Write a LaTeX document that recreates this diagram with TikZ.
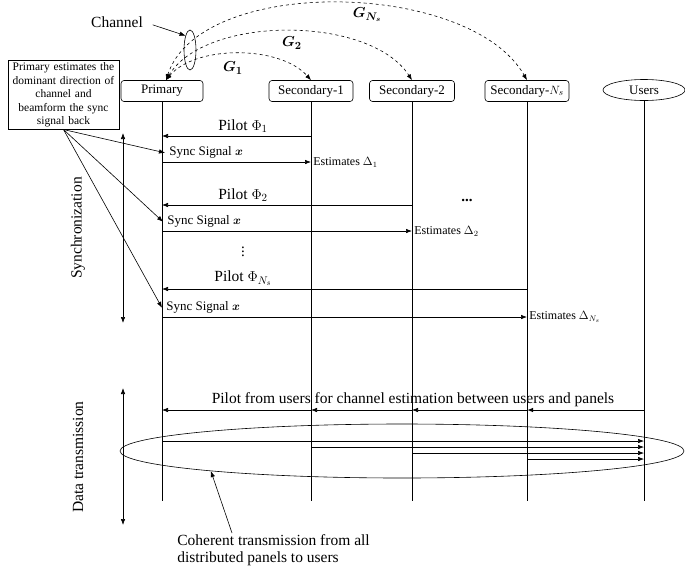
\documentclass[tikz,border=0pt]{standalone}
\usepackage{fontspec}
\setmainfont{Liberation Serif}
\usepackage{bm}
\usetikzlibrary{arrows.meta,shapes.geometric,positioning}
\tikzset{party/.style={rectangle,rounded corners=3pt,draw,minimum width=82pt,minimum height=21pt,inner sep=1pt,font=\fontsize{13}{15}\selectfont},
         user node/.style={ellipse,draw,minimum width=82pt,minimum height=21pt,inner sep=0pt,font=\fontsize{13}{15}\selectfont},
         note/.style={rectangle,draw,text width=107pt,align=center,inner sep=2pt,font=\fontsize{11.5}{13.5}\selectfont},
         big label/.style={font=\fontsize{15.5}{17}\selectfont,inner sep=1pt},
         msg label/.style={font=\fontsize{13}{15}\selectfont,inner sep=1pt},
         est label/.style={font=\fontsize{12}{14}\selectfont,inner sep=2pt},
         g label/.style={font=\fontsize{15}{17}\selectfont\boldmath,inner sep=1pt}
}

\begin{document}
\begin{tikzpicture}[x=1pt,y=-1pt,>={Latex[length=6pt,width=4.5pt]},line width=0.6pt]
\useasboundingbox (0,0) rectangle (685,571);

\node [party] (prim) at (162,91) {Primary};
\node [party,minimum width=84pt] (sec1) at (311,91) {Secondary-1};
\node [party,minimum width=85pt] (sec2) at (412,91) {Secondary-2};
\node [party,minimum width=84pt] (secN) at (527,91) {Secondary-$N_s$};
\node [user node] (users) at (644,90) {Users};
\node [note] (note) at (63.5,95) {Primary estimates the\\dominant direction of\\channel and\\beamform the sync\\signal back};

\coordinate (bottom) at (0,501);
\foreach \p in {prim,sec1,sec2,secN,users}
    \draw (\p.south) -- (\p |- bottom);

% channel and G links
\node [big label] (chan) at (117,22) {Channel};
\node [ellipse,draw,minimum width=12pt,minimum height=40pt,inner sep=0pt] (chell) at (190,50) {};
\draw[->,shorten <=9pt] (chan.east) -- (chell.north west);
\draw[<->,dashed] ([xshift=4pt]prim.north) .. controls (195,45) and (280,45) .. (sec1.north);
\draw[<->,dashed] ([xshift=4pt]prim.north) .. controls (205,15) and (370,15) .. (sec2.north);
\draw[<->,dashed] ([xshift=4pt]prim.north) .. controls (200,-25) and (470,-20) .. (secN.north);
\node [g label] (g1) at (233,68) {$G_1$};
\node [g label] (g2) at (292,43) {$G_2$};
\node [g label] (gN) at (367,15) {$G_{N_s}$};

\coordinate (r1) at (0,136);
\coordinate (s1) at (0,162);
\coordinate (r2) at (0,205);
\coordinate (s2) at (0,231);
\coordinate (r3) at (0,289);
\coordinate (s3) at (0,317);

\draw[->] (sec1 |- r1) -- (prim |- r1);
\node [big label,anchor=south] (pil1) at (243,134) {Pilot $\Phi_1$};
\node [msg label,anchor=south west] (sync1) at (168,160) {Sync Signal $\bm{x}$};
\draw[->] (prim |- s1) -- (sec1 |- s1) node [est label,right] (est1) {Estimates $\Delta_1$};

\draw[->] (sec2 |- r2) -- (prim |- r2);
\node [big label,anchor=south] (pil2) at (243,203) {Pilot $\Phi_2$};
\node [msg label,anchor=south west] (sync2) at (166,229) {Sync Signal $\bm{x}$};
\draw[->] (prim |- s2) -- (sec2 |- s2) node [est label,right] (est2) {Estimates $\Delta_2$};
\node [font=\fontsize{15}{17}\selectfont\bfseries] (hdots) at (467,200) {...};
\node [font=\fontsize{15}{17}\selectfont\boldmath] (vdots) at (243,249) {$\vdots$};

\draw[->] (secN |- r3) -- (prim |- r3);
\node [big label,anchor=south] (pilN) at (243,287) {Pilot $\Phi_{N_s}$};
\node [msg label,anchor=south west] (sync3) at (165,315) {Sync Signal $\bm{x}$};
\draw[->] (prim |- s3) -- (secN |- s3) node [est label,right] (estN) {Estimates $\Delta_{N_s}$};

\foreach \s in {sync1,sync2,sync3}
    \draw[->] (note.south) -- ([xshift=-3pt]\s.west);

\coordinate (synctop) at (123,133);
\coordinate (syncbot) at (123,323);
\draw[<->] (synctop) -- (syncbot);
\node [big label,rotate=90] (synclab) at (78,228) {Synchronization};

% data transmission
\coordinate (up) at (0,410);
\draw[->,line width=1pt] (users |- up) -- (secN |- up);
\draw[->] (secN |- up) -- (sec2 |- up);
\draw[->] (sec2 |- up) -- (sec1 |- up);
\draw[->] (sec1 |- up) -- (prim |- up);
\node [big label,anchor=south] (uplab) at (413,408) {Pilot from users for channel estimation between users and panels};

\coordinate (d1) at (0,441);
\coordinate (d2) at (0,447);
\coordinate (d3) at (0,453);
\coordinate (d4) at (0,459);
\draw[->] (prim |- d1) -- (users |- d1);
\draw[->] (sec1 |- d2) -- (users |- d2);
\draw[->] (sec2 |- d3) -- (users |- d3);
\draw[->] (secN |- d4) -- (users |- d4);
\node [ellipse,draw,minimum width=564pt,minimum height=54pt,inner sep=0pt] (cohell) at (402,451) {};

\coordinate (datatop) at (123,388);
\coordinate (databot) at (123,525);
\draw[<->] (datatop) -- (databot);
\node [big label,rotate=90] (datalab) at (78,457) {Data transmission};

\node [big label,anchor=north west,align=left] (coh) at (176,533) {Coherent transmission from all\\distributed panels to users};
\draw[->] ([xshift=56pt]coh.north west) -- (cohell.186);
\end{tikzpicture}
\end{document}
